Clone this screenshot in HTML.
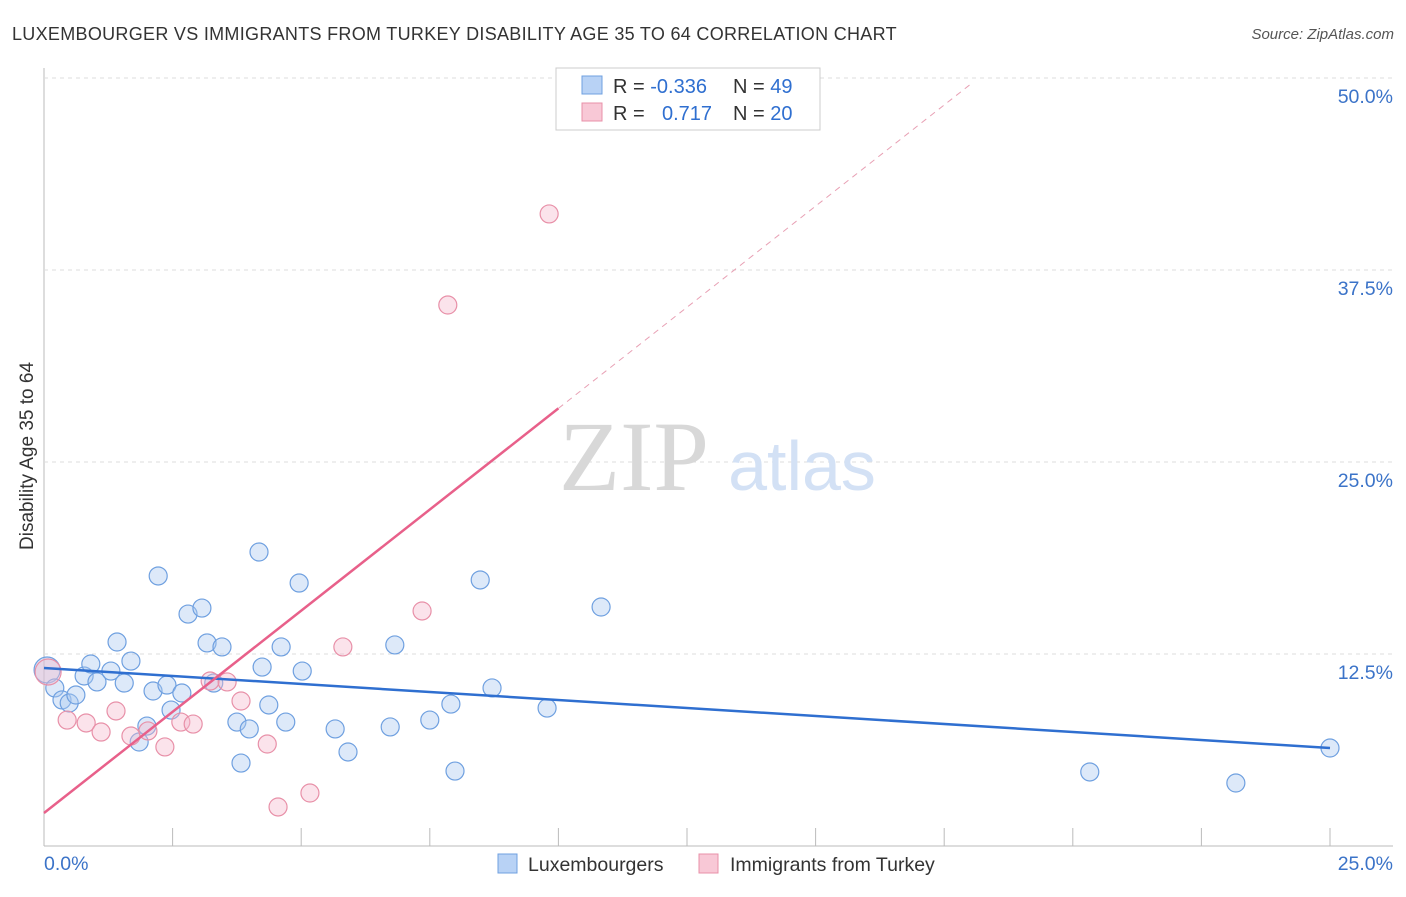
<!DOCTYPE html>
<html><head><meta charset="utf-8"><style>
body{margin:0;background:#fff;font-family:"Liberation Sans",sans-serif;}
svg text{font-family:"Liberation Sans",sans-serif;}
</style></head><body>
<svg id="c" width="1406" height="892">
<text x="12" y="40" font-size="18" fill="#333" letter-spacing="0.3">LUXEMBOURGER VS IMMIGRANTS FROM TURKEY DISABILITY AGE 35 TO 64 CORRELATION CHART</text>
<text x="1394" y="39" font-size="15" fill="#555" text-anchor="end" font-style="italic">Source: ZipAtlas.com</text>
<g id="grid"></g>
<text x="634" y="490" font-size="100" fill="#d8d8d8" text-anchor="middle" font-family="Liberation Serif" style="font-family:'Liberation Serif',serif">ZIP</text>
<text x="802" y="490" font-size="70" fill="#d3e1f5" text-anchor="middle">atlas</text>
<g id="pts"></g>
<g id="lines"></g>
<text x="33" y="456" font-size="19" fill="#333" text-anchor="middle" transform="rotate(-90 33 456)">Disability Age 35 to 64</text>
<g>
<rect x="556" y="68" width="264" height="62" fill="#fff" stroke="#ccc"/>
<rect x="582" y="76" width="20" height="18" fill="#b8d2f5" stroke="#6fa0e0"/>
<rect x="582" y="103" width="20" height="18" fill="#f8c8d6" stroke="#e890a8"/>
<text x="613" y="93" font-size="20" fill="#333">R = <tspan fill="#2f6fd0">-0.336</tspan></text>
<text x="733" y="93" font-size="20" fill="#333">N = <tspan fill="#2f6fd0">49</tspan></text>
<text x="613" y="120" font-size="20" fill="#333">R = </text>
<text x="662" y="120" font-size="20" fill="#2f6fd0">0.717</text>
<text x="733" y="120" font-size="20" fill="#333">N = <tspan fill="#2f6fd0">20</tspan></text>
</g>
<g>
<rect x="498" y="854" width="19" height="19" fill="#b8d2f5" stroke="#6fa0e0"/>
<text x="528" y="871" font-size="19.5" fill="#333">Luxembourgers</text>
<rect x="699" y="854" width="19" height="19" fill="#f8c8d6" stroke="#e890a8"/>
<text x="730" y="871" font-size="19.5" fill="#333">Immigrants from Turkey</text>
</g>
</svg>
<script>
const yTicks=[12.5,25,37.5,50];
const yTickLabels=["12.5%","25.0%","37.5%","50.0%"];
const xTickLabels=["0.0%","25.0%"];
const luxX=[0.06,0.21,0.35,0.49,0.62,0.78,0.91,1.03,1.30,1.42,1.56,1.69,1.85,2.00,2.12,2.22,2.39,2.47,2.68,2.80,3.07,3.17,3.30,3.46,3.75,3.83,3.99,4.18,4.24,4.37,4.61,4.70,4.96,5.02,5.66,5.91,6.73,6.82,7.50,7.91,7.99,8.48,8.71,9.78,10.83,20.33,23.17,25.00];
const luxY=[11.46,10.29,9.51,9.31,9.83,11.07,11.85,10.68,11.39,13.28,10.61,12.04,6.77,7.81,10.09,17.58,10.48,8.85,9.96,15.10,15.49,13.22,10.61,12.96,8.07,5.40,7.62,19.14,11.65,9.18,12.96,8.07,17.12,11.39,7.62,6.12,7.75,13.09,8.20,9.24,4.88,17.32,10.29,8.98,15.56,4.82,4.10,6.38];
const turX=[0.08,0.45,0.82,1.11,1.40,1.69,2.02,2.35,2.66,2.90,3.23,3.56,3.83,4.34,4.55,5.17,5.81,7.35,7.85,9.82];
const turY=[11.33,8.20,8.01,7.42,8.79,7.16,7.49,6.45,8.07,7.94,10.74,10.68,9.44,6.64,2.54,3.45,12.96,15.30,35.22,41.15];
const luxTrend=[11.59,6.38]; // y at x=0 and x=25
const turTrend=[2.15,2.634]; // intercept, slope
const X=v=>44+v*51.44, Y=v=>846-v*15.36;
const NS="http://www.w3.org/2000/svg";
function mk(t,a,p){const e=document.createElementNS(NS,t);for(const k in a)e.setAttribute(k,a[k]);p.appendChild(e);return e;}
const svg=document.getElementById('c'),grid=document.getElementById('grid'),pts=document.getElementById('pts'),lines=document.getElementById('lines');
mk('line',{x1:44,y1:68,x2:44,y2:846,stroke:'#bbb'},grid);
mk('line',{x1:44,y1:846,x2:1393,y2:846,stroke:'#bbb'},grid);
for(let i=0;i<=10;i++){const l=mk('line',{x1:X(i*2.5),y1:828,x2:X(i*2.5),y2:846,stroke:'#bbb'},grid);

}
yTicks.forEach((v,i)=>{const g=mk('line',{x1:44,y1:Y(v),x2:1393,y2:Y(v),stroke:'#ddd','stroke-dasharray':'4,4'},grid);


const t=mk('text',{x:1393,y:Y(v)+25,'font-size':19.5,fill:'#3b73c8','text-anchor':'end'},grid);t.textContent=yTickLabels[i];

});
[[0,'start',44],[25,'end',1393]].forEach((a,i)=>{const t=mk('text',{x:a[2],y:870,'font-size':19.5,fill:'#3b73c8','text-anchor':a[1]},grid);t.textContent=xTickLabels[i];

});
luxX.forEach((x,i)=>{const c=mk('circle',{cx:X(x),cy:Y(luxY[i]),r:i==0?13:9,fill:'rgba(170,200,240,0.4)',stroke:'#6fa0e0','stroke-width':1.2},pts);

});
turX.forEach((x,i)=>{const c=mk('circle',{cx:X(x),cy:Y(turY[i]),r:i==0?13:9,fill:'rgba(245,185,205,0.4)',stroke:'#e890a8','stroke-width':1.2},pts);

});
let l=mk('line',{x1:X(0),y1:Y(luxTrend[0]),x2:X(25),y2:Y(luxTrend[1]),stroke:'#2f6fd0','stroke-width':2.5},lines);


l=mk('line',{x1:X(0),y1:Y(turTrend[0]),x2:X(10),y2:Y(turTrend[0]+10*turTrend[1]),stroke:'#e8608a','stroke-width':2.5},lines);


l=mk('line',{x1:X(10),y1:Y(turTrend[0]+10*turTrend[1]),x2:X(18.04),y2:Y(turTrend[0]+18.04*turTrend[1]),stroke:'#e8a0b4','stroke-width':1,'stroke-dasharray':'6,5'},lines);


</script>
</body></html>
